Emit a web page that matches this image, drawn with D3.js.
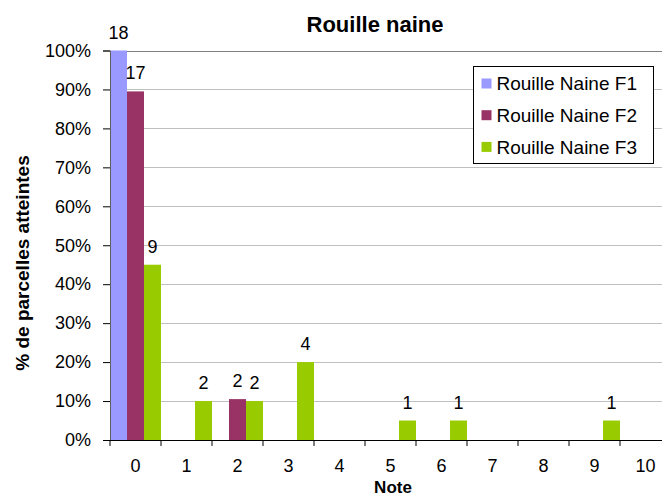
<!DOCTYPE html>
<html>
<head>
<meta charset="utf-8">
<script src="https://cdn.jsdelivr.net/npm/d3@7"></script>
<style>
  body { margin: 0; background: #fff; }
  text { font-family: "Liberation Sans", Arial, sans-serif; fill: #000; }
</style>
</head>
<body>
<script>
// Rouille naine - repartition des notes
const W = 662, H = 499;
const margin = { top: 50.5, right: -9, bottom: 59, left: 110 };

// Data
const NOTES  = ["0", "1", "2", "3", "4", "5", "6", "7", "8", "9", "10"];
const SERIES = ["Rouille Naine F1", "Rouille Naine F2", "Rouille Naine F3"];
const COLORS = ["#9999FF", "#993366", "#99CC00"];
// number of plots per note
const COUNT_F1 = [18, 0, 0, 0, 0, 0, 0, 0, 0, 0, 0];
const COUNT_F2 = [17, 0, 2, 0, 0, 0, 0, 0, 0, 0, 0];
const COUNT_F3 = [9, 2, 2, 4, 0, 1, 1, 0, 0, 1, 0];
// % of plots per note
const PCT_F1 = [100, 0, 0, 0, 0, 0, 0, 0, 0, 0, 0];
const PCT_F2 = [89.5, 0, 10.5, 0, 0, 0, 0, 0, 0, 0, 0];
const PCT_F3 = [45, 10, 10, 20, 0, 5, 5, 0, 0, 5, 0];
const Y_TICKS = [0, 10, 20, 30, 40, 50, 60, 70, 80, 90, 100];

const counts = [COUNT_F1, COUNT_F2, COUNT_F3];
const pcts   = [PCT_F1, PCT_F2, PCT_F3];

const rows = NOTES.map((n, i) => ({
  note: n,
  values: SERIES.map((s, k) => ({ series: s, k, pct: pcts[k][i], count: counts[k][i] }))
}));

// Scales
const x = d3.scaleBand()
  .domain(NOTES)
  .range([margin.left, W - margin.right])
  .paddingInner(0)
  .paddingOuter(0);
const xs = d3.scaleBand()
  .domain(SERIES)
  .range([0, x.bandwidth()])
  .padding(0);
const y = d3.scaleLinear()
  .domain([0, 100])
  .range([H - margin.bottom, margin.top]);

const svg = d3.select("body").append("svg")
  .attr("width", W)
  .attr("height", H);

// Gridlines
svg.append("g")
  .selectAll("line")
  .data(Y_TICKS.filter(t => t > 0))
  .join("line")
    .attr("x1", margin.left)
    .attr("x2", W)
    .attr("y1", d => Math.round(y(d)) + 0.5)
    .attr("y2", d => Math.round(y(d)) + 0.5)
    .attr("stroke", d => d === 100 ? "#808080" : "#c0c0c0")
    .attr("stroke-width", 1.2);

// Bars
const groups = svg.append("g")
  .selectAll("g")
  .data(rows)
  .join("g")
    .attr("transform", d => `translate(${x(d.note)},0)`);

groups.selectAll("rect")
  .data(d => d.values.filter(v => v.pct > 0))
  .join("rect")
    .attr("x", v => xs(v.series))
    .attr("width", xs.bandwidth())
    .attr("y", v => y(v.pct))
    .attr("height", v => y(0) - y(v.pct))
    .attr("fill", v => COLORS[v.k]);

groups.selectAll("text")
  .data(d => d.values.filter(v => v.count > 0))
  .join("text")
    .attr("x", v => xs(v.series) + xs.bandwidth() / 2)
    .attr("y", v => y(v.pct) - 12)
    .attr("text-anchor", "middle")
    .attr("font-size", 18)
    .text(v => v.count);

// Axes
const yAxis = svg.append("g")
  .attr("transform", `translate(${margin.left},0)`)
  .call(d3.axisLeft(y).tickValues(Y_TICKS).tickFormat(d => d + "%").tickSize(7).tickPadding(12));
yAxis.select(".domain").attr("stroke", "#606060");
yAxis.selectAll(".tick line").attr("stroke", "#000");
yAxis.selectAll(".tick text").attr("font-size", 18).attr("font-family", null);

const xAxis = svg.append("g")
  .attr("transform", `translate(0,${y(0)})`)
  .call(d3.axisBottom(x).tickSize(0).tickPadding(19));
xAxis.select(".domain").attr("stroke", "#000").attr("d", `M${margin.left},0.5H${W}`);
xAxis.selectAll(".tick text").attr("font-size", 18).attr("font-family", null);

// boundary ticks between categories
xAxis.append("g")
  .selectAll("line")
  .data(NOTES)
  .join("line")
    .attr("x1", d => x(d))
    .attr("x2", d => x(d))
    .attr("y1", 0)
    .attr("y2", 6)
    .attr("stroke", "#000");

// Titles
svg.append("text")
  .attr("x", 375)
  .attr("y", 32)
  .attr("text-anchor", "middle")
  .attr("font-size", 22)
  .attr("font-weight", "bold")
  .text("Rouille naine");

svg.append("text")
  .attr("transform", `translate(29,${263}) rotate(-90)`)
  .attr("text-anchor", "middle")
  .attr("font-size", 19)
  .attr("font-weight", "bold")
  .text("% de parcelles atteintes");

svg.append("text")
  .attr("x", 393)
  .attr("y", 493)
  .attr("text-anchor", "middle")
  .attr("font-size", 17)
  .attr("font-weight", "bold")
  .text("Note");

// Legend
const legend = svg.append("g").attr("transform", "translate(473.5,66.5)");
legend.append("rect")
  .attr("width", 180)
  .attr("height", 97)
  .attr("fill", "#fff")
  .attr("stroke", "#000");

const item = legend.selectAll("g")
  .data(SERIES)
  .join("g")
    .attr("transform", (d, i) => `translate(8,${17 + i * 31.7})`);
item.append("rect")
  .attr("y", -5)
  .attr("width", 10)
  .attr("height", 10)
  .attr("fill", (d, i) => COLORS[i]);
item.append("text")
  .attr("x", 15)
  .attr("dy", "0.36em")
  .attr("font-size", 19)
  .text(d => d);
</script>
</body>
</html>
